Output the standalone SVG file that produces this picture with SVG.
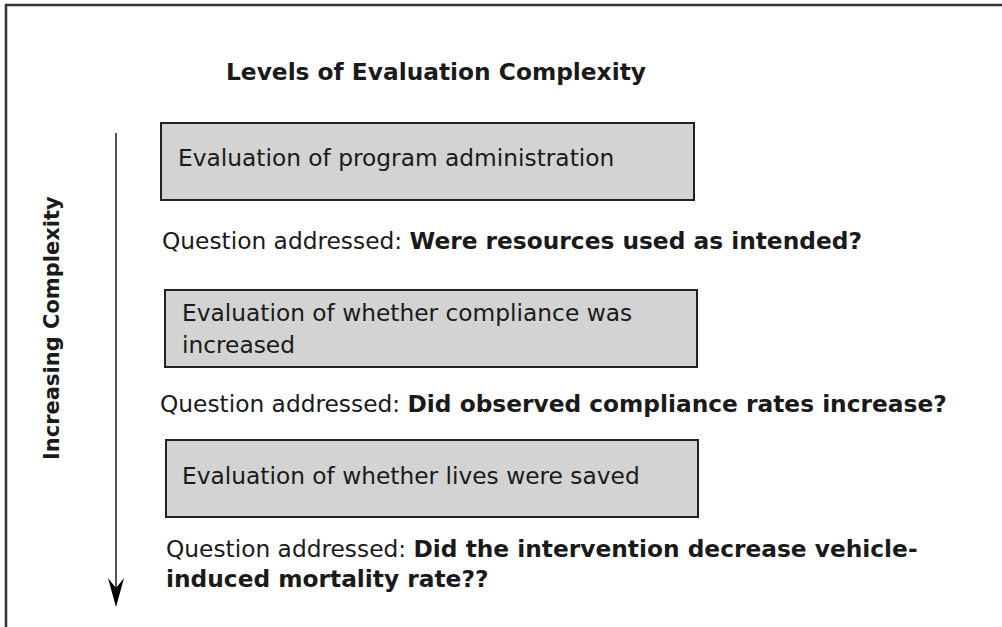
<svg xmlns="http://www.w3.org/2000/svg" width="1002" height="627" viewBox="0 0 1002 627">
<style>
text { font-family: "DejaVu Sans", "Liberation Sans", sans-serif; fill: #1a1a1a; }
.t { font-size: 23.3px; }
.b { font-weight: bold; }
.v { font-size: 21px; font-weight: bold; }
.box { fill: #d3d3d3; stroke: #222; stroke-width: 2; }
</style>
<rect x="0" y="0" width="1002" height="627" fill="#fff"/>
<path d="M6,640 L6,5 L1010,5" fill="none" stroke="#333" stroke-width="2.5"/>
<text class="t b" x="226" y="80">Levels of Evaluation Complexity</text>
<g id="connectors">
<line x1="116" y1="133" x2="116" y2="595" stroke="#555" stroke-width="2"/>
<path d="M108,578 L116,588 L124,578 L116,607 Z" fill="#000"/>
</g>
<text class="v" transform="translate(59,460) rotate(-90)">Increasing Complexity</text>
<g id="level1">
<rect class="box" x="161" y="123" width="533" height="77"/>
<text class="t" x="178" y="166">Evaluation of program administration</text>
</g>
<text class="t" x="162" y="249">Question addressed: <tspan class="b">Were resources used as intended?</tspan></text>
<g id="level2">
<rect class="box" x="165" y="290" width="532" height="77"/>
<text class="t" x="182" y="321">Evaluation of whether compliance was</text>
<text class="t" x="182" y="353">increased</text>
</g>
<text class="t" x="160" y="412">Question addressed: <tspan class="b">Did observed compliance rates increase?</tspan></text>
<g id="level3">
<rect class="box" x="166" y="440" width="532" height="77"/>
<text class="t" x="182" y="484">Evaluation of whether lives were saved</text>
</g>
<text class="t" x="166" y="557">Question addressed: <tspan class="b">Did the intervention decrease vehicle-</tspan></text>
<text class="t b" x="166" y="587">induced mortality rate??</text>
</svg>
